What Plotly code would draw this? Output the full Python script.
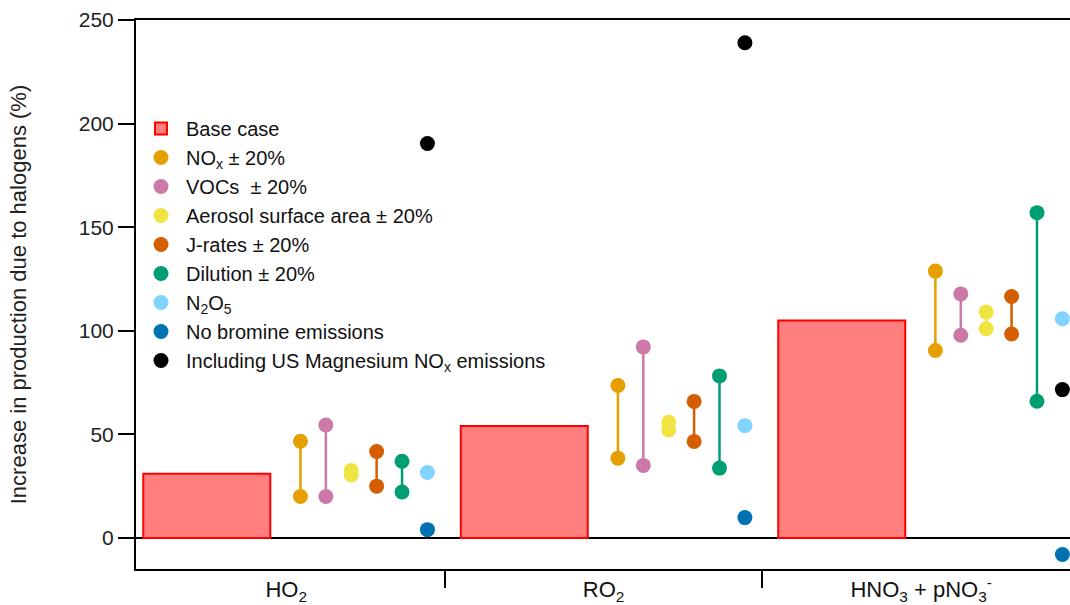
import plotly.graph_objects as go

categories = ["HO<sub>2</sub>", "RO<sub>2</sub>", "HNO<sub>3</sub> + pNO<sub>3</sub><sup>-</sup>"]
base_case = [31.0, 54.0, 105.0]
nox_low = [20.0, 38.5, 90.5]
nox_high = [46.7, 73.6, 128.8]
voc_low = [20.0, 35.0, 97.8]
voc_high = [54.5, 92.2, 117.8]
aer_low = [30.4, 52.1, 101.0]
aer_high = [32.6, 55.8, 109.0]
jrate_low = [25.0, 46.6, 98.4]
jrate_high = [41.7, 65.9, 116.5]
dil_low = [22.2, 33.7, 66.0]
dil_high = [37.0, 78.2, 157.0]
n2o5 = [31.6, 54.2, 105.8]
no_bromine = [4.0, 9.8, -8.0]
us_mg = [190.4, 239.0, 71.6]

idx = list(range(len(categories)))
BAR_OFF, BAR_W = -0.25, 0.4
OFF0, STEP = 0.045, 0.08

fig = go.Figure()
fig.add_trace(go.Bar(
    x=[i + BAR_OFF for i in idx], y=base_case, width=BAR_W, name="Base case",
    marker=dict(color="#FF7F7F", line=dict(color="#FF0000", width=2)),
))

range_series = [
    ("NO<sub>x</sub> ± 20%", nox_low, nox_high, "#E69F00"),
    ("VOCs  ± 20%", voc_low, voc_high, "#CC79A7"),
    ("Aerosol surface area ± 20%", aer_low, aer_high, "#F0E442"),
    ("J-rates ± 20%", jrate_low, jrate_high, "#D55E00"),
    ("Dilution ± 20%", dil_low, dil_high, "#009E73"),
]
single_series = [
    ("N<sub>2</sub>O<sub>5</sub>", n2o5, "#80D4FF"),
    ("No bromine emissions", no_bromine, "#0072B2"),
    ("Including US Magnesium NO<sub>x</sub> emissions", us_mg, "#000000"),
]

MS = 15
for k, (name, lo, hi, col) in enumerate(range_series):
    off = OFF0 + STEP * k
    lx, ly = [], []
    for i in idx:
        lx += [i + off, i + off, None]
        ly += [lo[i], hi[i], None]
    fig.add_trace(go.Scatter(x=lx, y=ly, mode="lines", line=dict(color=col, width=2.5),
                             showlegend=False, hoverinfo="skip"))
    fig.add_trace(go.Scatter(
        x=[i + off for i in idx] * 2, y=lo + hi, mode="markers", name=name,
        marker=dict(color=col, size=MS),
    ))

for name, vals, col in single_series:
    off = OFF0 + STEP * 5
    fig.add_trace(go.Scatter(
        x=[i + off for i in idx], y=vals, mode="markers", name=name,
        marker=dict(color=col, size=MS),
    ))

fig.update_layout(
    width=1070, height=605,
    margin=dict(l=136, r=0, t=20, b=33),
    plot_bgcolor="white", paper_bgcolor="white",
    font=dict(family="Liberation Sans, Arial, sans-serif", color="#222"),
    legend=dict(x=0.0, y=0.838, xanchor="left", yanchor="top",
                bgcolor="rgba(0,0,0,0)", font=dict(size=20, color="#111"),
                tracegroupgap=0, itemwidth=40),
    xaxis=dict(
        range=[-0.473, 2.469], tickvals=idx, ticktext=categories,
        ticks="", showgrid=False, zeroline=False,
        showline=True, linecolor="black", linewidth=2, mirror=True,
        tickfont=dict(size=22, color="#111"),
        minor=dict(tickvals=[0.5, 1.5], ticks="outside", ticklen=17,
                   tickwidth=2, tickcolor="black", showgrid=False),
    ),
    yaxis=dict(
        range=[-15, 250], tickvals=[0, 50, 100, 150, 200, 250],
        ticks="outside", ticklen=16, tickwidth=2, tickcolor="black",
        showgrid=False, zeroline=True, zerolinecolor="black", zerolinewidth=2,
        showline=True, linecolor="black", linewidth=2,
        tickfont=dict(size=21, color="#222"),
        title=dict(text="Increase in production due to halogens (%)",
                   font=dict(size=22, color="#222"), standoff=46),
    ),
    showlegend=True,
)

fig.write_html("out.html")
